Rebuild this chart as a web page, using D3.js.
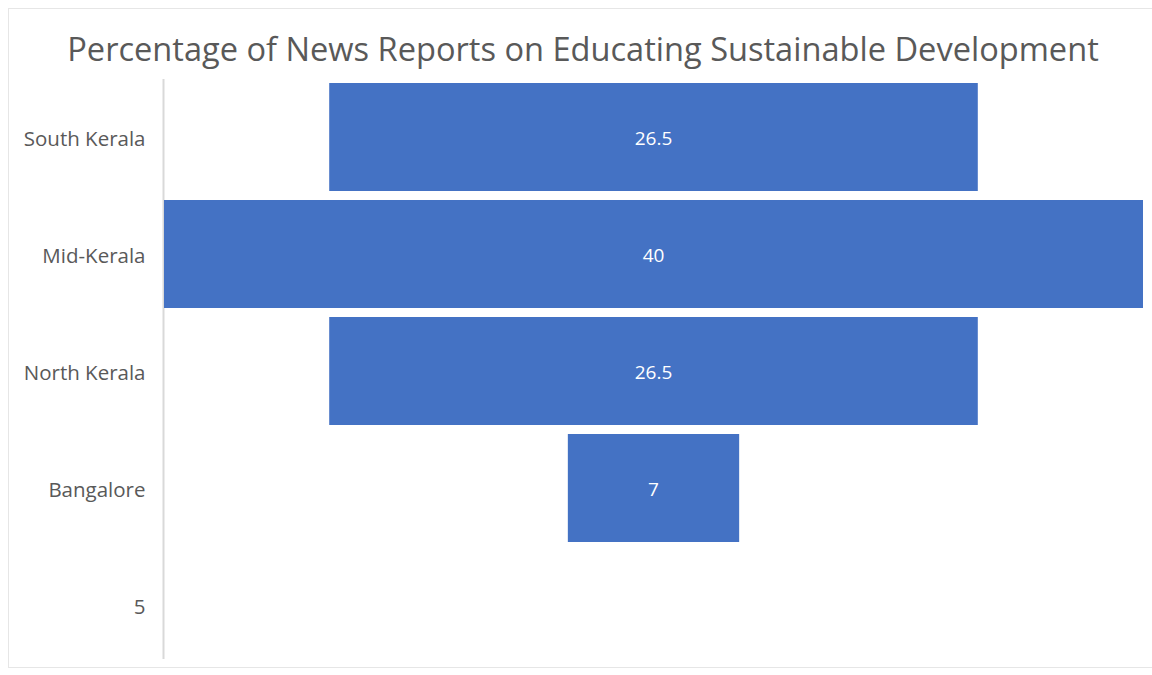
<!DOCTYPE html>
<html>
<head>
<meta charset="utf-8">
<script src="https://cdn.jsdelivr.net/npm/d3@7"></script>
<style>
  body { margin: 0; background: #fff; }
  svg { display: block; font-family: "Open Sans", "Noto Sans", sans-serif; }
</style>
</head>
<body>
<svg id="chart" width="1152" height="675"></svg>
<script>
// datos del embudo
const categories = ["South Kerala", "Mid-Kerala", "North Kerala", "Bangalore", "5"];
const values = [26.5, 40, 26.5, 7, null];
const titleText = "Percentage of News Reports on Educating Sustainable Development";

const svg = d3.select("#chart");

// marco del grafico
svg.append("rect")
    .attr("x", 8.5).attr("y", 8.5)
    .attr("width", 1160).attr("height", 659)
    .attr("fill", "none")
    .attr("stroke", "#e6e6e6");

svg.append("text")
    .attr("x", 583).attr("y", 61)
    .attr("text-anchor", "middle")
    .attr("font-size", 32.6)
    .attr("fill", "#595959")
    .text(titleText);

const y = d3.scaleBand()
    .domain(categories)
    .range([78.5, 663.5])
    .paddingInner(0.077)
    .paddingOuter(0.0385);

const x = d3.scaleLinear().domain([-20, 20]).range([164, 1143]);

const data = categories.map((c, i) => ({ cat: c, v: values[i] }));

const axisY = d3.axisLeft(y).tickSize(0).tickPadding(18).tickSizeOuter(0);
const gy = svg.append("g").attr("transform", "translate(163.5,0)").call(axisY);
gy.select(".domain").attr("stroke", "#d9d9d9").attr("stroke-width", 2)
    .attr("d", "M0,79V659");
gy.selectAll("text").attr("font-size", 20.5).attr("fill", "#595959")
    .attr("dy", "0.42em")
    .attr("font-family", "'Open Sans', sans-serif");

const bars = data.filter(d => d.v != null);

svg.selectAll("rect.bar")
    .data(bars)
    .enter().append("rect")
    .attr("class", "bar")
    .attr("x", d => x(-d.v / 2))
    .attr("y", d => y(d.cat))
    .attr("width", d => x(d.v / 2) - x(-d.v / 2))
    .attr("height", y.bandwidth())
    .attr("fill", "#4472c4");

svg.selectAll("text.lbl")
    .data(bars)
    .enter().append("text")
    .attr("class", "lbl")
    .attr("x", x(0))
    .attr("y", d => y(d.cat) + y.bandwidth() / 2)
    .attr("dy", "0.4em")
    .attr("text-anchor", "middle")
    .attr("font-size", 19)
    .attr("fill", "#fff")
    .text(d => d.v);
</script>
</body>
</html>
